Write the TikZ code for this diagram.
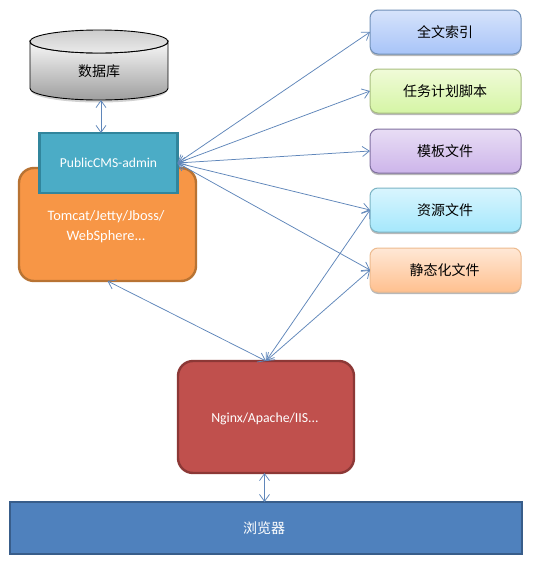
\documentclass[tikz,border=0pt]{standalone}
\usepackage{fontspec}
\setmainfont{Carlito}
\newfontfamily\cjk{Noto Sans CJK SC}
\usetikzlibrary{arrows.meta,shadows,calc}
\definecolor{arrowblue}{HTML}{5F86BA}
\definecolor{orangefill}{HTML}{F79646}
\definecolor{orangeline}{HTML}{B87333}
\definecolor{tealfill}{HTML}{4BACC6}
\definecolor{tealline}{HTML}{31859C}
\definecolor{redfill}{HTML}{C0504D}
\definecolor{redline}{HTML}{8C3836}
\definecolor{bluefill}{HTML}{4F81BD}
\definecolor{blueline}{HTML}{385D8A}
\definecolor{idxtop}{HTML}{D6E3FB}\definecolor{idxbot}{HTML}{A8C4F8}\definecolor{idxline}{HTML}{7090B8}
\definecolor{tasktop}{HTML}{F0FBD8}\definecolor{taskbot}{HTML}{D5F5A5}\definecolor{taskline}{HTML}{A8BE80}
\definecolor{tpltop}{HTML}{E8DDF5}\definecolor{tplbot}{HTML}{CDB5EA}\definecolor{tplline}{HTML}{8070A0}
\definecolor{restop}{HTML}{D9F5FE}\definecolor{resbot}{HTML}{A5E8FC}\definecolor{resline}{HTML}{7CB4C4}
\definecolor{stattop}{HTML}{FFE8D6}\definecolor{statbot}{HTML}{FFC08F}\definecolor{statline}{HTML}{EDBB8F}
\tikzset{
  x=1pt,y=-1pt,
  softshadow/.style={drop shadow={shadow xshift=0pt,shadow yshift=-2pt,opacity=.28,fill=black}},
  filebox/.style={draw=#1line,top color=#1top,bottom color=#1bot,line width=1pt,rounded corners=8pt,minimum width=151pt,minimum height=44pt,inner sep=0pt,outer sep=0pt,softshadow,font=\cjk\fontsize{14}{16}\selectfont,text=black},
  bigbox/.style={rounded corners=15pt,line width=2.4pt,inner sep=0pt,outer sep=0pt,font=\fontsize{13.8}{20}\selectfont,align=center},
  flatbox/.style={line width=2.4pt,inner sep=0pt,outer sep=0pt},
  link/.style={draw=arrowblue,line width=.75pt,{Straight Barb[length=7pt,width=10pt]}-{Straight Barb[length=7pt,width=10pt]}}
}
\begin{document}
\begin{tikzpicture}
\useasboundingbox (0,0) rectangle (533,563);
\fill[white] (0,0) rectangle (533,563);
% database
\path[fill=black,opacity=.18] (31,90.5) arc[start angle=180,end angle=360,x radius=68pt,y radius=12pt] -- cycle;
\path[draw=black,line width=.9pt,top color=black!3,bottom color=black!38]
  (30,41.5) -- (30,88.5) arc[start angle=180,end angle=360,x radius=69pt,y radius=11.5pt] -- (168,41.5) arc[start angle=0,end angle=-180,x radius=69pt,y radius=11.5pt] -- cycle;
\path[draw=black,line width=.9pt,top color=black!20,bottom color=black!8]
  (30,41.5) arc[start angle=180,end angle=-180,x radius=69pt,y radius=11.5pt] -- cycle;
\node[font=\cjk\fontsize{14}{16}\selectfont,text=black,minimum width=138pt,minimum height=70pt,inner sep=0pt,outer sep=0pt] (db) at (99,65) {\rule{0pt}{24pt}数据库};
% application server
\node[bigbox,draw=orangeline,fill=orangefill,text=white,font=\fontsize{14.4}{20}\selectfont,minimum width=177pt,minimum height=113pt] (tomcat) at (107.5,224.5) {\rule{0pt}{15pt}Tomcat/Jetty/Jboss/\hspace*{3pt}\\WebSphere...\hspace*{3pt}};
\node[flatbox,draw=tealline,fill=tealfill,text=white,font=\fontsize{13.6}{15}\selectfont,minimum width=138pt,minimum height=60pt] (admin) at (108.5,163) {PublicCMS-admin};
% file boxes
\node[filebox=idx] (idx) at (445.5,32) {全文索引\hspace*{1pt}};
\node[filebox=task] (task) at (445.5,91) {任务计划脚本\hspace*{1pt}};
\node[filebox=tpl] (tpl) at (445.5,151) {模板文件\hspace*{1pt}};
\node[filebox=res] (res) at (445.5,210) {资源文件\hspace*{1pt}};
\node[filebox=stat] (static) at (445.5,270) {静态化文件\hspace*{2pt}};
% web server and browser
\node[bigbox,draw=redline,fill=redfill,text=white,minimum width=176pt,minimum height=112pt] (nginx) at (266,417) {\rule{0pt}{13.5pt}Nginx/Apache/IIS...\hspace*{2pt}};
\node[flatbox,draw=blueline,fill=bluefill,text=white,font=\cjk\fontsize{14}{16}\selectfont,minimum width=512pt,minimum height=52pt] (browser) at (266,528) {浏览器\hspace*{4pt}};
% connectors
\draw[link] ($(db.south)+(2,0)$) -- ($(admin.north)+(-7.5,0)$);
\draw[link] (admin.east) -- (idx.west);
\draw[link] (admin.east) -- (task.west);
\draw[link] (admin.east) -- (tpl.west);
\draw[link] (admin.east) -- (res.west);
\draw[link] (admin.east) -- (static.west);
\draw[link] (tomcat.south) -- (nginx.north);
\draw[link] (nginx.north) -- (res.west);
\draw[link] (nginx.north) -- (static.west);
\draw[link] ($(nginx.south)+(-1.5,0)$) -- ($(browser.north)+(-1.5,0)$);
\end{tikzpicture}
\end{document}
